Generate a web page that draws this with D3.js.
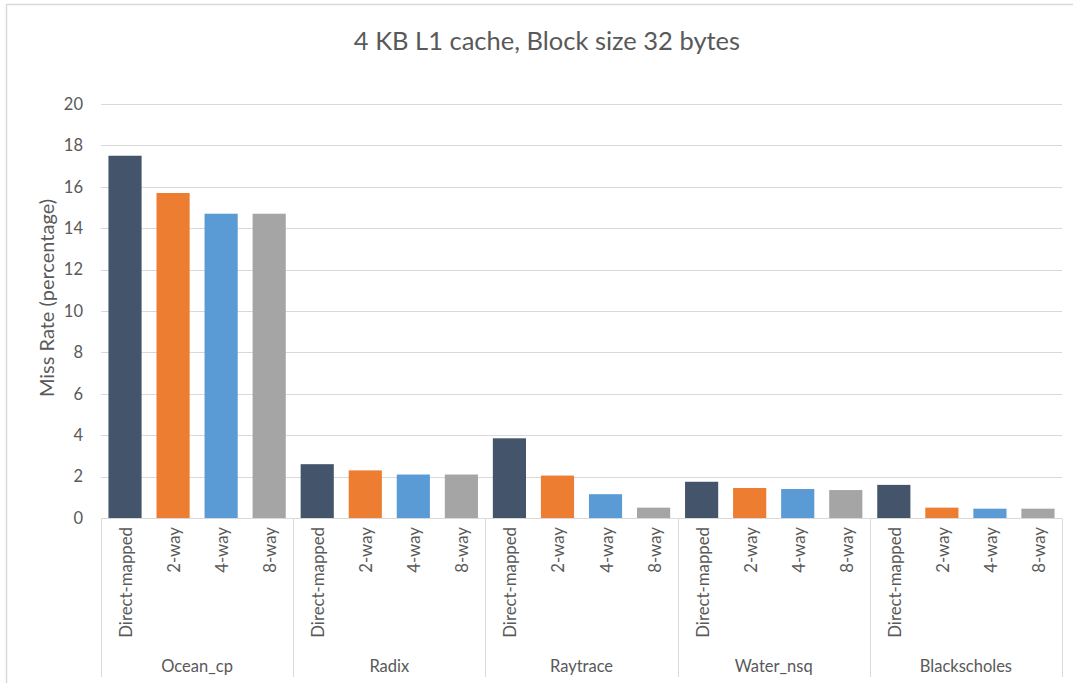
<!DOCTYPE html>
<html>
<head>
<meta charset="utf-8">
<script src="https://cdn.jsdelivr.net/npm/d3@7"></script>
<style>
  body { margin: 0; background: #fff; }
  text { font-family: Lato, "Open Sans", sans-serif; fill: #595959; }
</style>
</head>
<body>
<script>
'use strict';

// chart data
let groups = ['Ocean_cp', 'Radix', 'Raytrace', 'Water_nsq', 'Blackscholes'];
let configs = ['Direct-mapped', '2-way', '4-way', '8-way'];
let directMapped = [17.5, 2.6, 3.85, 1.75, 1.6];
let twoWay = [15.7, 2.3, 2.05, 1.45, 0.5];
let fourWay = [14.7, 2.1, 1.15, 1.4, 0.45];
let eightWay = [14.7, 2.1, 0.5, 1.35, 0.45];
let yTicks = [0, 2, 4, 6, 8, 10, 12, 14, 16, 18, 20];
let colors = ['#44546A', '#ED7D31', '#5B9BD5', '#A5A5A5'];

let series = [directMapped, twoWay, fourWay, eightWay];

let width = 1073, height = 683;
let margin = { top: 104, right: 11, bottom: 165, left: 101 };

let svg = d3.select('body').append('svg')
  .attr('width', width)
  .attr('height', height);

// partial frame (top + left)
svg.append('line').attr('x1', 6).attr('x2', width).attr('y1', 4.5).attr('y2', 4.5)
  .attr('stroke', '#d9d9d9').attr('stroke-width', 1.5);
svg.append('line').attr('x1', 6.5).attr('x2', 6.5).attr('y1', 4).attr('y2', height)
  .attr('stroke', '#d9d9d9').attr('stroke-width', 1.5);

let x0 = d3.scaleBand()
  .domain(groups)
  .range([margin.left, width - margin.right]);

let x1 = d3.scaleBand()
  .domain(configs)
  .range([0, x0.bandwidth()])
  .paddingInner(0.31)
  .paddingOuter(0.155);

let y = d3.scaleLinear()
  .domain([0, 20])
  .range([height - margin.bottom, margin.top]);

// gridlines
svg.append('g')
  .selectAll('line')
  .data(yTicks.filter(d => d > 0))
  .enter().append('line')
  .attr('x1', margin.left).attr('x2', width - margin.right)
  .attr('y1', d => Math.round(y(d)) + 0.5).attr('y2', d => Math.round(y(d)) + 0.5)
  .attr('stroke', '#d9d9d9').attr('stroke-width', 1);

// y axis labels
let yAxis = svg.append('g')
  .attr('transform', `translate(${margin.left},0)`)
  .call(d3.axisLeft(y).tickValues(yTicks).tickSize(0).tickPadding(18));
yAxis.select('.domain').remove();
yAxis.selectAll('text')
  .style('font-size', '16.5px')
  .style('font-family', 'Lato, sans-serif')
  .attr('fill', '#595959');

// bars
let data = [];
groups.forEach((g, gi) => {
  configs.forEach((c, ci) => {
    data.push({ group: g, config: c, value: series[ci][gi], color: colors[ci] });
  });
});

svg.append('g')
  .selectAll('rect')
  .data(data)
  .enter().append('rect')
  .attr('x', d => x0(d.group) + x1(d.config))
  .attr('width', x1.bandwidth())
  .attr('y', d => y(d.value))
  .attr('height', d => y(0) - y(d.value))
  .attr('fill', d => d.color);

// x axis baseline
let base = Math.round(y(0)) + 0.5;
svg.append('line')
  .attr('x1', margin.left).attr('x2', width - margin.right)
  .attr('y1', base).attr('y2', base)
  .attr('stroke', '#d9d9d9').attr('stroke-width', 1);

// group separators
let bounds = groups.map(g => x0(g)).concat([width - margin.right]);
svg.append('g')
  .selectAll('line')
  .data(bounds)
  .enter().append('line')
  .attr('x1', d => Math.round(d) + 0.5).attr('x2', d => Math.round(d) + 0.5)
  .attr('y1', base).attr('y2', 677)
  .attr('stroke', '#d9d9d9').attr('stroke-width', 1);

// config labels (rotated)
svg.append('g')
  .selectAll('text')
  .data(data)
  .enter().append('text')
  .attr('transform', d => `translate(${x0(d.group) + x1(d.config) + x1.bandwidth() / 2 + 7},527) rotate(-90)`)
  .attr('text-anchor', 'end')
  .style('font-size', '16.8px')
  .text(d => d.config);

// group labels
svg.append('g')
  .selectAll('text')
  .data(groups)
  .enter().append('text')
  .attr('x', d => x0(d) + x0.bandwidth() / 2)
  .attr('y', 672)
  .attr('text-anchor', 'middle')
  .style('font-size', '16.5px')
  .text(d => d);

// y axis title
svg.append('text')
  .attr('transform', 'translate(54,298) rotate(-90)')
  .attr('text-anchor', 'middle')
  .style('font-size', '20px')
  .text('Miss Rate (percentage)');

// title
svg.append('text')
  .attr('x', 547)
  .attr('y', 50)
  .attr('text-anchor', 'middle')
  .style('font-size', '25.5px')
  .text('4 KB L1 cache, Block size 32 bytes');
</script>
</body>
</html>
